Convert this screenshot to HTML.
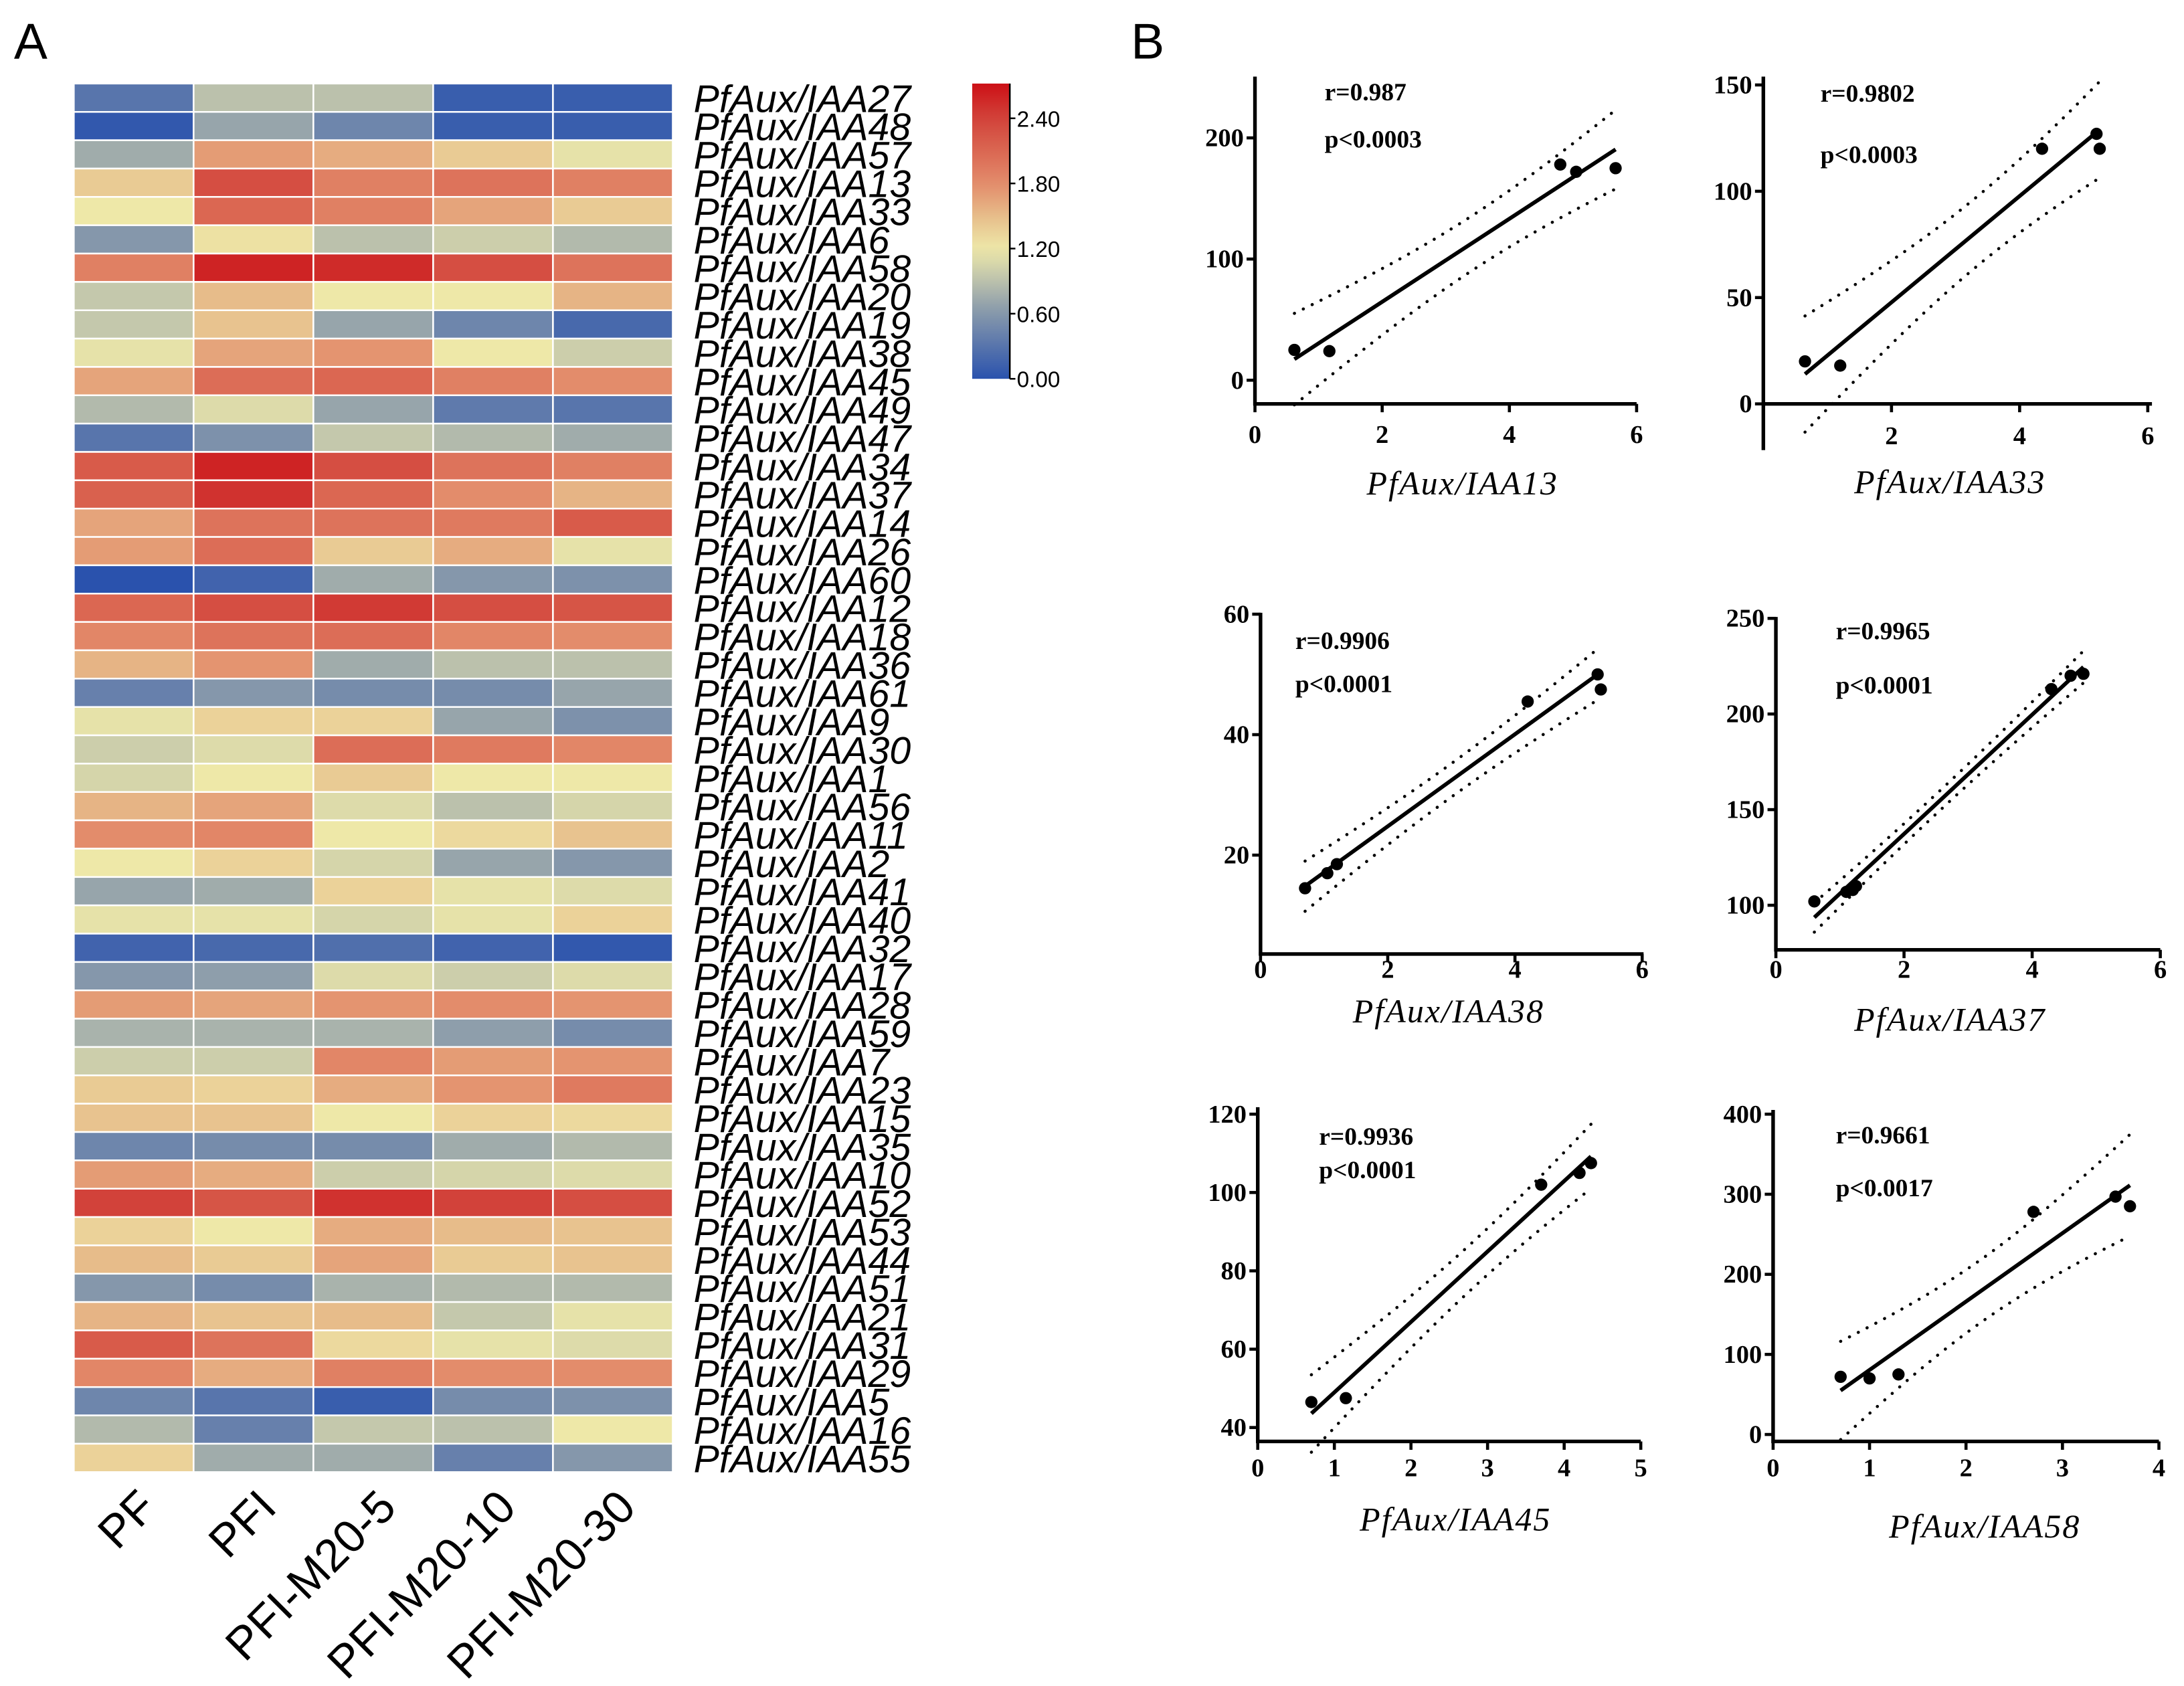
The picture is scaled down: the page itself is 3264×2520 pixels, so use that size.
<!DOCTYPE html>
<html><head><meta charset="utf-8">
<style>html,body{margin:0;padding:0;background:#fff}svg{display:block}</style>
</head><body>
<svg id="fig" xmlns="http://www.w3.org/2000/svg" width="3264" height="2520" viewBox="0 0 1568 1210.6">
<rect width="1568" height="1210.6" fill="#fff"/>
<text x="10" y="42" font-family="Liberation Sans, sans-serif" font-size="36">A</text>
<text x="812" y="42" font-family="Liberation Sans, sans-serif" font-size="36">B</text>
<g id="heat"></g>
<g id="cbar"></g>
<g id="scat"></g>
</svg>
<script>
const genes=["PfAux/IAA27","PfAux/IAA48","PfAux/IAA57","PfAux/IAA13","PfAux/IAA33","PfAux/IAA6","PfAux/IAA58","PfAux/IAA20","PfAux/IAA19","PfAux/IAA38","PfAux/IAA45","PfAux/IAA49","PfAux/IAA47","PfAux/IAA34","PfAux/IAA37","PfAux/IAA14","PfAux/IAA26","PfAux/IAA60","PfAux/IAA12","PfAux/IAA18","PfAux/IAA36","PfAux/IAA61","PfAux/IAA9","PfAux/IAA30","PfAux/IAA1","PfAux/IAA56","PfAux/IAA11","PfAux/IAA2","PfAux/IAA41","PfAux/IAA40","PfAux/IAA32","PfAux/IAA17","PfAux/IAA28","PfAux/IAA59","PfAux/IAA7","PfAux/IAA23","PfAux/IAA15","PfAux/IAA35","PfAux/IAA10","PfAux/IAA52","PfAux/IAA53","PfAux/IAA44","PfAux/IAA51","PfAux/IAA21","PfAux/IAA31","PfAux/IAA29","PfAux/IAA5","PfAux/IAA16","PfAux/IAA55"];
const samples=["PF","PFI","PFI-M20-5","PFI-M20-10","PFI-M20-30"];
const heatValues=[
[0.3,0.9,0.9,0.1,0.1],[0.05,0.7,0.45,0.1,0.1],[0.75,1.7,1.6,1.4,1.15],[1.4,2.3,1.9,2.0,1.9],[1.2,2.1,1.9,1.65,1.4],
[0.6,1.25,0.9,1.0,0.85],[1.9,2.6,2.55,2.3,2.0],[0.95,1.5,1.2,1.2,1.55],[0.95,1.45,0.7,0.45,0.2],[1.15,1.65,1.75,1.2,1.0],
[1.65,2.05,2.1,1.9,1.8],[0.85,1.1,0.7,0.35,0.3],[0.3,0.55,0.95,0.85,0.75],[2.2,2.6,2.3,2.0,1.9],[2.15,2.5,2.1,1.8,1.55],
[1.65,2.0,2.0,1.95,2.2],[1.7,2.05,1.4,1.6,1.15],[0.0,0.15,0.75,0.6,0.55],[2.1,2.3,2.45,2.3,2.25],[1.85,2.0,2.05,1.85,1.8],
[1.55,1.75,0.75,0.9,0.9],[0.4,0.6,0.5,0.5,0.7],[1.15,1.35,1.35,0.7,0.55],[1.0,1.1,2.05,1.95,1.85],[1.05,1.2,1.4,1.2,1.2],
[1.55,1.65,1.1,0.9,1.05],[1.8,1.85,1.2,1.3,1.45],[1.2,1.35,1.05,0.7,0.6],[0.7,0.75,1.35,1.15,1.1],[1.15,1.15,1.05,1.15,1.35],
[0.15,0.2,0.25,0.15,0.05],[0.6,0.65,1.1,1.0,1.1],[1.7,1.65,1.75,1.8,1.75],[0.8,0.8,0.8,0.65,0.5],[1.0,1.0,1.85,1.7,1.75],
[1.4,1.35,1.6,1.75,1.95],[1.45,1.45,1.2,1.35,1.3],[0.45,0.5,0.5,0.75,0.85],[1.7,1.6,1.0,1.05,1.1],[2.4,2.25,2.5,2.4,2.3],
[1.35,1.2,1.6,1.5,1.45],[1.5,1.4,1.65,1.4,1.45],[0.6,0.5,0.8,0.85,0.85],[1.55,1.45,1.5,0.95,1.15],[2.2,2.0,1.3,1.15,1.1],
[1.85,1.6,1.9,1.8,1.8],[0.45,0.3,0.1,0.5,0.55],[0.85,0.4,0.95,0.9,1.2],[1.35,0.75,0.75,0.4,0.6]];
const scaleTicks=[0,0.6,1.2,1.8,2.4];
const scaleMax=2.72;

const NS="http://www.w3.org/2000/svg";
function mk(tag,attrs,parent,txt){const e=document.createElementNS(NS,tag);for(const k in attrs)e.setAttribute(k,attrs[k]);if(txt!==undefined)e.textContent=txt;parent.appendChild(e);return e;}
const stops=[[0,[42,82,173]],[0.6,[133,151,171]],[0.95,[196,200,172]],[1.2,[238,232,168]],[1.5,[231,188,138]],[1.8,[227,140,107]],[2.4,[210,66,58]],[2.72,[204,16,22]]];
function color(v){v=Math.max(0,Math.min(2.72,v));for(let i=1;i<stops.length;i++){if(v<=stops[i][0]){const a=stops[i-1],b=stops[i];const t=(v-a[0])/(b[0]-a[0]);const c=a[1].map((x,j)=>Math.round(x+(b[1][j]-x)*t));return `rgb(${c[0]},${c[1]},${c[2]})`;}}return "rgb(204,16,22)";}

// heatmap
const heat=document.getElementById('heat');
const hx0=53,hx1=483,hy0=60,hy1=1057;
const cw=(hx1-hx0)/samples.length, rh=(hy1-hy0)/genes.length;
genes.forEach((g,i)=>{
  samples.forEach((s,j)=>{
    const r=mk('rect',{x:hx0+j*cw,y:hy0+i*rh,width:cw,height:rh,fill:color(heatValues[i][j]),stroke:'#fff','stroke-width':1.2},heat);
    
    
  });
  const t=mk('text',{x:498,y:hy0+(i+1)*rh+0,'font-family':'Liberation Sans, sans-serif','font-size':27.5,'font-style':'italic'},heat,g);
  
  
});
samples.forEach((s,j)=>{
  const cx=hx0+(j+0.5)*cw+18, cy=1084;
  const t=mk('text',{x:cx,y:cy,'text-anchor':'end','font-family':'Liberation Sans, sans-serif','font-size':33,transform:`rotate(-45 ${cx} ${cy})`},heat,s);
  
  
});

// colorbar
const cb=document.getElementById('cbar');
const cbx=698,cbw=27,cby0=60,cby1=272;
const defs=mk('defs',{},cb);
const grad=mk('linearGradient',{id:'cg',x1:0,y1:1,x2:0,y2:0},defs);
for(let k=0;k<=20;k++){const v=scaleMax*k/20;mk('stop',{offset:k/20,'stop-color':color(v)},grad);}
mk('rect',{x:cbx,y:cby0,width:cbw,height:cby1-cby0,fill:'url(#cg)'},cb);
mk('line',{x1:cbx+cbw,y1:cby0,x2:cbx+cbw,y2:cby1,stroke:'#000','stroke-width':1.2},cb);
scaleTicks.forEach(v=>{
  const y=cby1-(v/scaleMax)*(cby1-cby0);
  mk('line',{x1:cbx+cbw,y1:y,x2:cbx+cbw+4,y2:y,stroke:'#000','stroke-width':1.2},cb);
  const t=mk('text',{x:cbx+cbw+5,y:y+6,'font-family':'Liberation Sans, sans-serif','font-size':16},cb,v.toFixed(2));
  
  
});

// scatter panels data
const p13x=[0.62,1.17,4.8,5.05,5.67], p13y=[25,24,178,172,175];
const p33x=[0.65,1.2,4.35,5.2,5.25], p33y=[20,18,120,127,120];
const p38x=[0.7,1.05,1.2,4.2,5.3,5.35], p38y=[14.5,17,18.5,45.5,50,47.5];
const p37x=[0.6,1.1,1.2,1.25,4.3,4.6,4.8], p37y=[102,107,108,110,213,220,221];
const p45x=[0.7,1.15,3.7,4.2,4.35], p45y=[46.5,47.5,102,105,107.5];
const p58x=[0.7,1.0,1.3,2.7,3.55,3.7], p58y=[72,70,75,278,297,285];
const rLabels=["r=0.987","r=0.9802","r=0.9906","r=0.9965","r=0.9936","r=0.9661"];
const pLabels=["p<0.0003","p<0.0003","p<0.0001","p<0.0001","p<0.0001","p<0.0017"];
const xTicks1=[0,2,4,6], xTicks1b=[2,4,6], xTicks2=[0,1,2,3,4,5], xTicks3=[0,1,2,3,4];
const yTicksA=[0,100,200], yTicksB=[0,50,100,150], yTicksC=[20,40,60], yTicksD=[100,150,200,250], yTicksE=[40,60,80,100,120], yTicksF=[0,100,200,300,400];

// layout (pixel geometry, not data)
const panels=[
 {name:'IAA13',xs:p13x,ys:p13y,ax:901,ay:290,yb:290,xly:318,px0:901,px1:1175,xMax:6,xt:xTicks1,yv0:0,yp0:273,yv1:200,yp1:99,top:55,yt:yTicksA,tx:951,ty1:72,ty2:106,lx:1050,ly:355,r:0,xEnd:1175},
 {name:'IAA33',xs:p33x,ys:p33y,ax:1266,ay:290,yb:322,xly:319,px0:1266,px1:1542,xMax:6,xt:xTicks1b,yv0:0,yp0:290,yv1:150,yp1:61,top:55,yt:yTicksB,tx:1307,ty1:73,ty2:117,lx:1400,ly:354,r:1,xEnd:1545},
 {name:'IAA38',xs:p38x,ys:p38y,ax:905,ay:685,yb:685,xly:702,px0:905,px1:1179,xMax:6,xt:xTicks1,yv0:20,yp0:614,yv1:60,yp1:441,top:440,yt:yTicksC,tx:930,ty1:466,ty2:497,lx:1040,ly:734,r:2,xEnd:1180},
 {name:'IAA37',xs:p37x,ys:p37y,ax:1275,ay:682,yb:682,xly:702,px0:1275,px1:1551,xMax:6,xt:xTicks1,yv0:100,yp0:650,yv1:250,yp1:444,top:443,yt:yTicksD,tx:1318,ty1:459,ty2:498,lx:1400,ly:740,r:3,xEnd:1551},
 {name:'IAA45',xs:p45x,ys:p45y,ax:903,ay:1035,yb:1035,xly:1060,px0:903,px1:1178,xMax:5,xt:xTicks2,yv0:40,yp0:1025,yv1:120,yp1:800,top:795,yt:yTicksE,tx:947,ty1:822,ty2:846,lx:1045,ly:1099,r:4,xEnd:1178},
 {name:'IAA58',xs:p58x,ys:p58y,ax:1273,ay:1035,yb:1035,xly:1060,px0:1273,px1:1550,xMax:4,xt:xTicks3,yv0:0,yp0:1030,yv1:400,yp1:800,top:797,yt:yTicksF,tx:1318,ty1:821,ty2:859,lx:1425,ly:1104,r:5,xEnd:1550}
];
const tTable={1:12.706,2:4.303,3:3.182,4:2.776,5:2.571};
const sc=document.getElementById('scat');
panels.forEach(p=>{
  const g=mk('g',{},sc);
  
  
  const X=v=>p.px0+(v/p.xMax)*(p.px1-p.px0);
  const Y=v=>p.yp0+(v-p.yv0)/(p.yv1-p.yv0)*(p.yp1-p.yp0);
  mk('line',{x1:p.ax,y1:p.top,x2:p.ax,y2:Math.max(p.yb,p.ay)+1.2,stroke:'#000','stroke-width':2.6},g);
  mk('line',{x1:p.ax-1.2,y1:p.ay,x2:p.xEnd,y2:p.ay,stroke:'#000','stroke-width':2.6},g);
  p.xt.forEach(v=>{
    const x=X(v);
    mk('line',{x1:x,y1:p.ay,x2:x,y2:p.ay+6,stroke:'#000','stroke-width':2.2},g);
    const t=mk('text',{x:x,y:p.xly,'text-anchor':'middle','font-family':'Liberation Serif, serif','font-weight':'bold','font-size':18.5},g,String(v));
    
    
  });
  p.yt.forEach(v=>{
    const y=Y(v);
    mk('line',{x1:p.ax-6,y1:y,x2:p.ax,y2:y,stroke:'#000','stroke-width':2.2},g);
    const t=mk('text',{x:p.ax-8,y:y+6,'text-anchor':'end','font-family':'Liberation Serif, serif','font-weight':'bold','font-size':18.5},g,String(v));
    
    
  });
  // regression
  const n=p.xs.length;const mx=p.xs.reduce((a,b)=>a+b)/n, my=p.ys.reduce((a,b)=>a+b)/n;
  let sxx=0,sxy=0;for(let i=0;i<n;i++){sxx+=(p.xs[i]-mx)**2;sxy+=(p.xs[i]-mx)*(p.ys[i]-my);}
  const b=sxy/sxx,a=my-b*mx;let sse=0;for(let i=0;i<n;i++)sse+=(p.ys[i]-a-b*p.xs[i])**2;
  const s=Math.sqrt(sse/(n-2)), tv=tTable[n-2]||2.5;
  const xmin=Math.min(...p.xs), xmax=Math.max(...p.xs);
  let up=[],lo=[];
  for(let k=0;k<=30;k++){const x=xmin+(xmax-xmin)*k/30;const yh=a+b*x;const h=tv*s*Math.sqrt(1/n+(x-mx)**2/sxx);up.push(X(x).toFixed(2)+','+Y(yh+h).toFixed(2));lo.push(X(x).toFixed(2)+','+Y(yh-h).toFixed(2));}
  const ul=mk('polyline',{points:up.join(' '),fill:'none',stroke:'#000','stroke-width':2.2,'stroke-dasharray':'0.1 7','stroke-linecap':'round'},g);
  
  
  const ll=mk('polyline',{points:lo.join(' '),fill:'none',stroke:'#000','stroke-width':2.2,'stroke-dasharray':'0.1 7','stroke-linecap':'round'},g);
  
  
  const rl=mk('line',{x1:X(xmin),y1:Y(a+b*xmin),x2:X(xmax),y2:Y(a+b*xmax),stroke:'#000','stroke-width':2.8},g);
  
  
  for(let i=0;i<n;i++){
    const c=mk('circle',{cx:X(p.xs[i]),cy:Y(p.ys[i]),r:4.4,fill:'#000'},g);
    
    
  }
  const t1=mk('text',{x:p.tx,y:p.ty1,'font-family':'Liberation Serif, serif','font-weight':'bold','font-size':18},g,rLabels[p.r]);
  
  
  const t2=mk('text',{x:p.tx,y:p.ty2,'font-family':'Liberation Serif, serif','font-weight':'bold','font-size':18},g,pLabels[p.r]);
  
  
  const xl=mk('text',{x:p.lx,y:p.ly,'text-anchor':'middle','font-family':'Liberation Serif, serif','font-style':'italic','font-size':24,'letter-spacing':'1'},g,'PfAux/'+p.name);
  
  
});
</script>
</body></html>
